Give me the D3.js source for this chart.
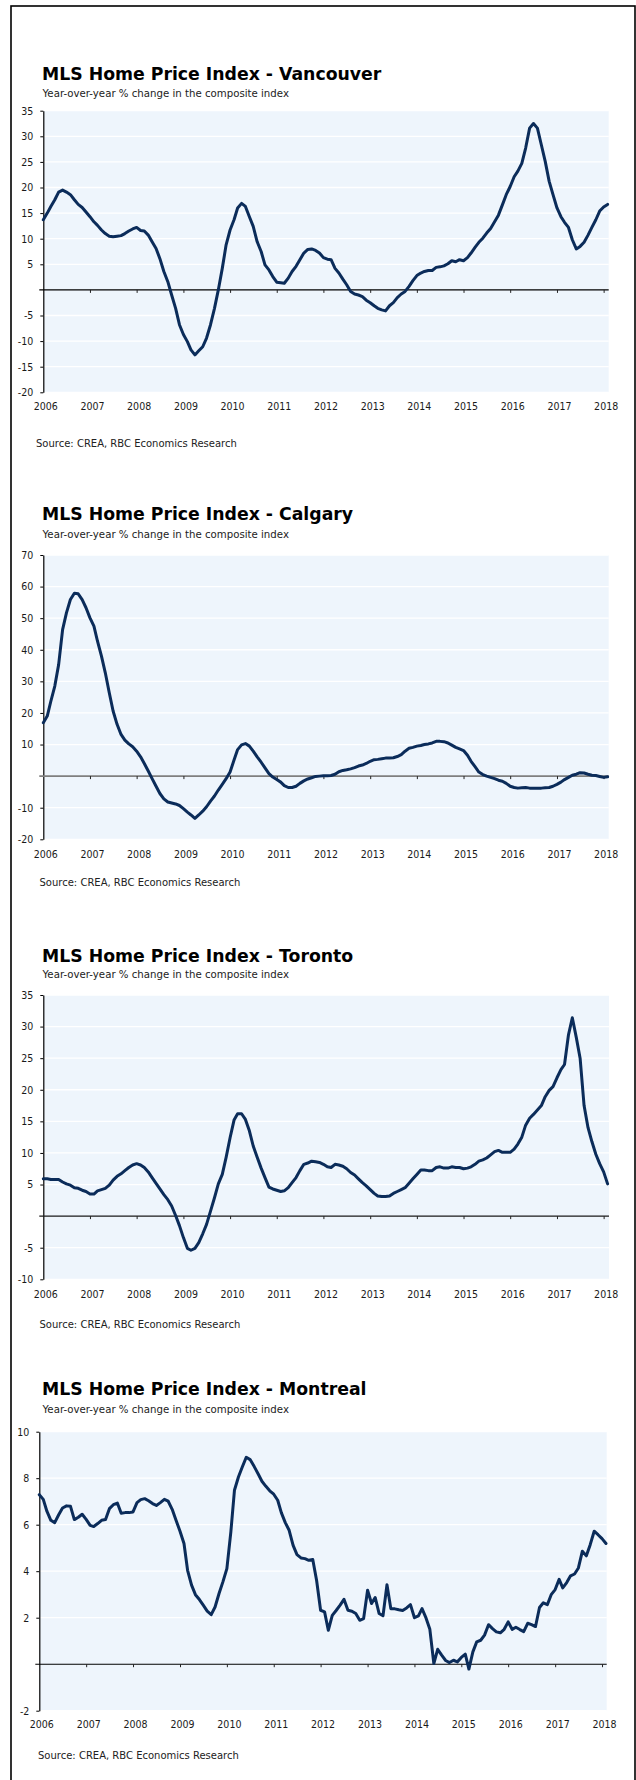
<!DOCTYPE html>
<html><head><meta charset="utf-8">
<script src="https://cdn.jsdelivr.net/npm/d3@7"></script>
<style>body{margin:0;background:#fff;}svg{display:block}</style>
</head><body>
<svg id="chart" width="636" height="1780"></svg>
<script>
// ---------- DATA ----------
const yearLabels = [2006,2007,2008,2009,2010,2011,2012,2013,2014,2015,2016,2017,2018];
const cityNames = ["Vancouver","Calgary","Toronto","Montreal"];
const subtitleText = "Year-over-year % change in the composite index";
const sourceText = "Source: CREA, RBC Economics Research";

// monthly, Jan 2006 - Feb 2018
const vancouverValues = [13.7,15.0,16.3,17.6,19.1,19.5,19.1,18.6,17.6,16.7,16.1,15.2,
14.3,13.3,12.6,11.7,11.0,10.5,10.4,10.5,10.6,11.0,11.5,11.9,
12.2,11.6,11.5,10.7,9.4,8.1,6.1,3.6,1.6,-1.0,-3.6,-6.8,
-8.7,-10.1,-11.7,-12.7,-11.9,-11.1,-9.4,-6.8,-3.6,0,4.2,8.8,
11.7,13.7,16.0,16.9,16.3,14.3,12.4,9.4,7.5,4.9,3.9,2.6,
1.5,1.4,1.3,2.3,3.6,4.6,5.9,7.2,7.9,8.0,7.7,7.2,
6.3,6.0,5.9,4.2,3.3,2.1,1.0,-0.3,-0.8,-1.0,-1.3,-2.0,
-2.5,-3.1,-3.6,-3.9,-4.1,-3.1,-2.5,-1.5,-0.8,-0.3,0.7,1.8,
2.8,3.3,3.6,3.8,3.8,4.4,4.5,4.7,5.1,5.7,5.5,5.9,
5.7,6.3,7.2,8.3,9.3,10.1,11.1,12.0,13.3,14.6,16.6,18.6,
20.2,22.1,23.2,24.7,27.7,31.6,32.5,31.6,28.3,25.1,21.2,18.6,
16.0,14.3,13.2,12.2,9.8,8.0,8.5,9.3,10.7,12.2,13.7,15.4,
16.2,16.7];

const calgaryValues = [16.9,19.0,23.7,28.5,35.3,46.4,51.7,55.9,57.9,57.7,55.9,53.3,
50.1,47.5,42.7,38.0,32.7,26.4,20.6,16.4,13.2,11.4,10.2,9.3,
7.9,6.1,4.0,1.6,-0.8,-3.2,-5.5,-7.2,-8.2,-8.5,-8.8,-9.3,
-10.3,-11.4,-12.3,-13.4,-12.3,-11.1,-9.7,-7.9,-6.3,-4.4,-2.6,-0.8,
1.3,5.1,8.4,9.9,10.3,9.5,7.9,6.1,4.4,2.6,0.8,-0.3,
-1.1,-1.9,-3.0,-3.6,-3.6,-3.2,-2.3,-1.5,-0.9,-0.5,-0.1,0,
0.1,0.1,0.2,0.6,1.4,1.8,2.0,2.3,2.7,3.2,3.5,4.0,
4.7,5.2,5.3,5.5,5.7,5.7,5.8,6.2,6.8,7.9,8.8,9.1,
9.5,9.7,10.0,10.2,10.5,11.0,11.0,10.9,10.5,9.8,9.1,8.6,
8.1,6.6,4.7,3.0,1.3,0.5,0,-0.4,-0.8,-1.3,-1.6,-2.3,
-3.2,-3.6,-3.8,-3.7,-3.6,-3.8,-3.8,-3.8,-3.8,-3.7,-3.6,-3.2,
-2.6,-1.9,-1.1,-0.4,0.3,0.6,1.1,1.0,0.6,0.3,0.2,-0.1,
-0.4,-0.2];

const torontoValues = [5.9,5.9,5.8,5.8,5.8,5.4,5.1,4.9,4.5,4.4,4.1,3.9,
3.5,3.5,4.0,4.2,4.4,4.9,5.7,6.3,6.7,7.2,7.7,8.1,
8.3,8.1,7.7,7.0,6.1,5.2,4.3,3.4,2.6,1.6,0.1,-1.5,
-3.4,-5.1,-5.4,-5.1,-4.2,-2.8,-1.3,0.8,2.9,5.1,6.6,9.3,
12.4,15.2,16.2,16.2,15.3,13.5,11.1,9.3,7.6,6.1,4.6,4.3,
4.1,3.9,4.0,4.5,5.3,6.1,7.2,8.2,8.4,8.7,8.6,8.5,
8.2,7.8,7.7,8.2,8.1,7.9,7.5,6.9,6.5,5.9,5.3,4.8,
4.2,3.6,3.2,3.1,3.1,3.2,3.6,3.9,4.2,4.5,5.2,5.9,
6.6,7.3,7.3,7.2,7.2,7.7,7.8,7.6,7.6,7.8,7.7,7.7,
7.5,7.6,7.8,8.2,8.7,8.9,9.2,9.7,10.2,10.4,10.1,10.1,
10.1,10.6,11.4,12.5,14.4,15.5,16.1,16.8,17.5,18.9,19.9,20.5,
21.9,23.2,24.0,28.7,31.4,28.3,25.0,17.5,14.0,11.8,9.8,8.3,
7.0,5.1];

const montrealValues = [7.29,7.09,6.58,6.19,6.09,6.43,6.72,6.81,6.79,6.22,6.32,6.45,
6.23,5.97,5.92,6.05,6.19,6.22,6.69,6.86,6.93,6.49,6.52,6.52,
6.55,6.95,7.08,7.12,7.03,6.91,6.83,6.95,7.09,7.01,6.66,6.19,
5.72,5.19,4.04,3.40,2.99,2.78,2.54,2.28,2.13,2.46,3.04,3.54,
4.11,5.69,7.48,8.05,8.48,8.90,8.80,8.51,8.19,7.87,7.65,7.46,
7.31,7.05,6.52,6.09,5.76,5.11,4.71,4.57,4.54,4.47,4.50,3.60,
2.32,2.25,1.46,2.10,2.31,2.54,2.79,2.32,2.28,2.18,1.89,1.96,
3.18,2.61,2.87,2.18,2.08,3.42,2.39,2.38,2.34,2.31,2.42,2.56,
2.00,2.08,2.39,1.99,1.50,0.03,0.64,0.39,0.16,0.07,0.17,0.10,
0.29,0.43,-0.21,0.53,0.96,1.03,1.25,1.70,1.53,1.39,1.35,1.50,
1.82,1.50,1.59,1.49,1.40,1.76,1.70,1.62,2.44,2.64,2.56,2.99,
3.21,3.65,3.28,3.51,3.80,3.88,4.14,4.86,4.66,5.14,5.72,5.57,
5.40,5.19];

const vancouverTicks = [-20,-15,-10,-5,5,10,15,20,25,30,35];
const calgaryTicks = [-20,-10,10,20,30,40,50,60,70];
const torontoTicks = [-10,-5,5,10,15,20,25,30,35];
const montrealTicks = [-2,2,4,6,8,10];

// ---------- LAYOUT ----------
const layouts = [
  {title:80,  sub:96.7,  top:110.7, bottom:392.3, left:43.3, lineRight:607.6, bgRight:608.7, min:-20, max:35, yearY:410.7, srcY:446.7, srcX:36, zeroColor:"#000", zeroW:1.1},
  {title:520, sub:538.3, top:555,   bottom:839.3, left:43.3, lineRight:607.6, bgRight:608.7, min:-20, max:70, yearY:858.3, srcY:885.7, srcX:39.5, zeroColor:"#7f7f7f", zeroW:1.6},
  {title:961.7, sub:978.3, top:995, bottom:1279.3, left:43.3, lineRight:607.6, bgRight:609, min:-10, max:35, yearY:1298.3, srcY:1327.7, srcX:39.5, zeroColor:"#1a1a1a", zeroW:1.1},
  {title:1395, sub:1413.3, top:1431.7, bottom:1710.7, left:39.3, lineRight:606, bgRight:606.7, min:-2, max:10, yearY:1728.3, srcY:1759.3, srcX:38, zeroColor:"#000", zeroW:1.1}
];
const seriesList = [vancouverValues, calgaryValues, torontoValues, montrealValues];
const tickList = [vancouverTicks, calgaryTicks, torontoTicks, montrealTicks];

const FONT = "'DejaVu Sans Condensed','DejaVu Sans',sans-serif";
const FONT_W = "'DejaVu Sans',sans-serif";
const svg = d3.select("#chart");

svg.append("rect").attr("x",11).attr("y",6).attr("width",624).attr("height",1800)
  .attr("fill","none").attr("stroke","#000").attr("stroke-width",1.6);

cityNames.forEach((city, i) => {
  const L = layouts[i], values = seriesList[i], ticks = tickList[i];
  const months = values.map((v, k) => new Date(2006, k, 1));
  const x = d3.scaleTime().domain([months[0], months[months.length-1]]).range([L.left, L.lineRight]);
  const y = d3.scaleLinear().domain([L.min, L.max]).range([L.bottom, L.top]);
  const g = svg.append("g");

  g.append("text").attr("x",42).attr("y",L.title).text("MLS Home Price Index - " + city)
    .attr("font-family",FONT_W).attr("font-weight","bold").attr("font-size",17.3).attr("fill","#000");
  g.append("text").attr("x",42.5).attr("y",L.sub).text(subtitleText)
    .attr("font-family",FONT_W).attr("font-size",10.2).attr("fill","#222");

  g.append("rect").attr("x",L.left).attr("y",L.top).attr("width",L.bgRight-L.left).attr("height",L.bottom-L.top)
    .attr("fill","#eef5fc");

  g.selectAll(".grid").data(ticks).enter().append("line")
    .attr("x1",L.left).attr("x2",L.bgRight).attr("y1",d=>y(d)).attr("y2",d=>y(d))
    .attr("stroke","#fff").attr("stroke-width",1.3);

  // y axis
  const yAxis = d3.axisLeft(y).tickValues(ticks).tickSize(3).tickSizeOuter(0).tickPadding(7).tickFormat(d => String(d));
  const ya = g.append("g").attr("transform",`translate(${L.left},0)`).call(yAxis);
  ya.select(".domain").attr("stroke","#000").attr("stroke-width",1.2);
  ya.selectAll(".tick line").attr("stroke","#000");
  ya.selectAll("text").attr("font-family",FONT).attr("font-size",10.5).attr("fill","#1a1a1a");

  // zero line
  g.append("line").attr("x1",L.left-4).attr("x2",L.bgRight).attr("y1",y(0)).attr("y2",y(0))
    .attr("stroke",L.zeroColor).attr("stroke-width",L.zeroW);

  // x axis at zero with year labels below plot
  const yearDates = yearLabels.map(yr => new Date(yr, 0, 1));
  const xAxis = d3.axisBottom(x).tickValues(yearDates).tickSize(3).tickSizeOuter(0)
    .tickPadding(L.yearY - y(0) - 3 - 8).tickFormat(d3.timeFormat("%Y"));
  const xa = g.append("g").attr("transform",`translate(0,${y(0)})`).call(xAxis);
  xa.select(".domain").remove();
  xa.selectAll(".tick line").attr("stroke","#222").attr("stroke-width",1);
  xa.selectAll(".tick").filter((d,k)=>k===0).select("line").remove();
  xa.selectAll("text").attr("font-family",FONT).attr("font-size",10.5).attr("fill","#1a1a1a").attr("dx",2);

  // data line
  const line = d3.line().x((d,k)=>x(months[k])).y(d=>y(d));
  g.append("path").datum(values).attr("d",line).attr("fill","none")
    .attr("stroke","#0b2c5a").attr("stroke-width",3).attr("stroke-linejoin","round").attr("stroke-linecap","round");

  g.append("text").attr("x",L.srcX).attr("y",L.srcY).text(sourceText)
    .attr("font-family",FONT_W).attr("font-size",10).attr("fill","#222");
});
</script>
</body></html>
